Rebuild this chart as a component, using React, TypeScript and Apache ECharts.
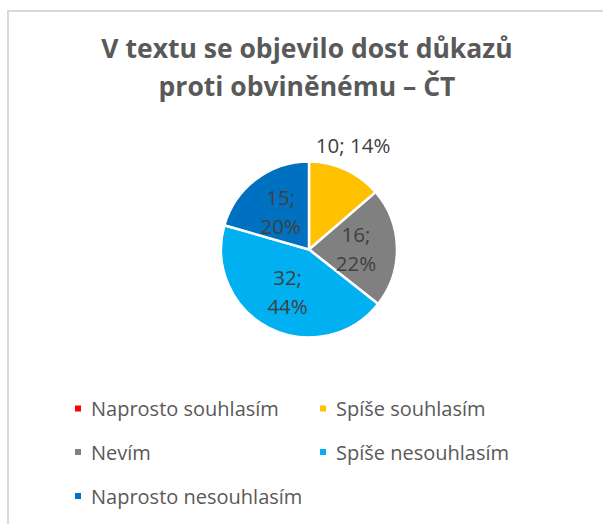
import React, { useEffect, useRef } from "react";
import * as echarts from "echarts";

const titleText = "V textu se objevilo dost důkazů\nproti obviněnému – ČT";
const categories = [
  "Naprosto souhlasím",
  "Spíše souhlasím",
  "Nevím",
  "Spíše nesouhlasím",
  "Naprosto nesouhlasím",
];
const counts = [0, 10, 16, 32, 15];
const palette = ["#FF0000", "#FFC000", "#808080", "#00B0F0", "#0070C0"];

const FONT = "Open Sans";

export default function App() {
  const ref = useRef<HTMLDivElement>(null);
  useEffect(() => {
    if (!ref.current) return;
    const chart = echarts.init(ref.current, null, { renderer: "svg" });

    const legendPos = [
      { left: 73, top: 397.5 },
      { left: 318, top: 397.5 },
      { left: 73, top: 441 },
      { left: 318, top: 441 },
      { left: 73, top: 485 },
    ];

    const data = categories.map((name, i) => {
      const item: any = {
        name,
        value: counts[i],
        itemStyle: { color: palette[i] },
      };
      if (counts[i] === 0) {
        item.label = { show: false };
        item.labelLine = { show: false };
      } else if (i === 1) {
        item.label = { position: "outside" };
      }
      return item;
    });

    chart.setOption({
      animation: false,
      backgroundColor: "#ffffff",
      title: {
        text: titleText,
        left: 307,
        top: 29,
        padding: 0,
        textAlign: "center",
        textStyle: {
          fontFamily: FONT,
          fontWeight: "bold",
          fontSize: 26.5,
          lineHeight: 38,
          color: "#595959",
        },
      },
      legend: categories.map((name, i) => ({
        data: [name],
        left: legendPos[i].left,
        top: legendPos[i].top,
        padding: 0,
        itemGap: 0,
        itemWidth: 8,
        itemHeight: 8,
        icon: "rect",
        selectedMode: false,
        textStyle: {
          fontFamily: FONT,
          fontSize: 20,
          lineHeight: 22,
          color: "#595959",
          padding: [0, 0, 0, 4],
        },
      })),
      graphic: [
        {
          type: "rect",
          shape: { x: 8, y: 11, width: 700, height: 700 },
          style: { fill: "none", stroke: "#d9d9d9", lineWidth: 2 },
          silent: true,
        },
      ],
      series: [
        {
          type: "pie",
          center: [309, 249.5],
          radius: 88,
          startAngle: 90,
          clockwise: true,
          percentPrecision: 0,
          avoidLabelOverlap: false,
          itemStyle: { borderColor: "#ffffff", borderWidth: 2.5 },
          label: {
            show: true,
            position: "inside",
            fontFamily: FONT,
            fontSize: 20.5,
            lineHeight: 29,
            color: "#404040",
            formatter: (p: any) =>
              p.dataIndex === 1
                ? `${p.value}; ${p.percent}%`
                : `${p.value};\n${p.percent}%`,
          },
          labelLine: { show: false, length: 8, length2: 0 },
          labelLayout: (p: any) =>
            p.dataIndex === 1
              ? { align: "center", verticalAlign: "bottom", dx: -1, dy: -3 }
              : {},
          emphasis: { disabled: true },
          data,
        },
      ],
    });
    return () => chart.dispose();
  }, []);
  return (
    <div
      ref={ref}
      style={{ position: "absolute", left: 0, top: 0, width: 603, height: 524 }}
    />
  );
}
